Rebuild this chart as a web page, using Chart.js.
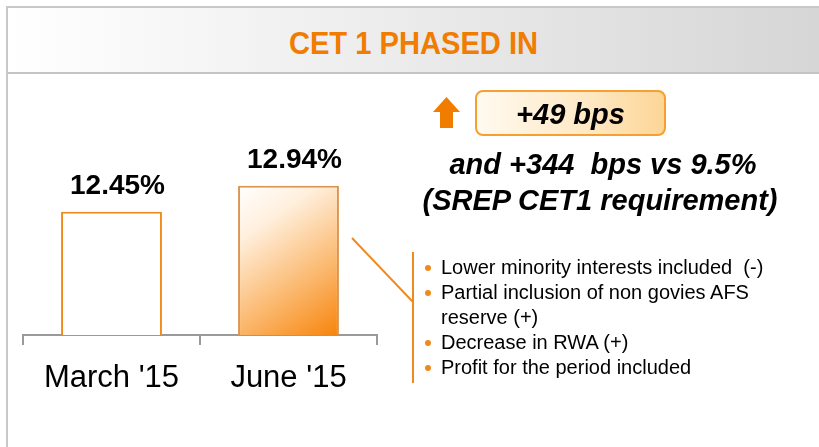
<!DOCTYPE html>
<html>
<head>
<meta charset="utf-8">
<script src="https://cdn.jsdelivr.net/npm/chart.js@4.4.0/dist/chart.umd.min.js"></script>
<style>
  body { margin: 0; width: 819px; height: 447px; overflow: hidden; background: #fff; font-family: Arial, "Liberation Sans", sans-serif; }
  #page { position: relative; width: 819px; height: 447px; }
  #frame { position: absolute; left: 6px; top: 6px; width: 830px; height: 460px; border-left: 2px solid #c8c8c8; border-top: 2px solid #c8c8c8; }
  #header { position: absolute; left: 8px; top: 8px; width: 811px; height: 64px; border-bottom: 2px solid #c4c4c4;
            background: linear-gradient(to right, #ffffff 0%, #efefef 40%, #d6d6d6 100%); }
  #title { position: absolute; left: 0; top: 0; width: 811px; line-height: 71px; text-align: center; color: #f07c00; font-weight: bold; font-size: 32px; transform: scaleX(0.91); }
  #chartBox { position: absolute; left: 22px; top: 120px; width: 356px; height: 275px; }
  .bi { position: absolute; font-weight: bold; font-style: italic; color: #000; white-space: nowrap; }
  #badge { position: absolute; left: 475px; top: 90px; width: 187px; height: 42px; border: 2px solid #f5a030; border-radius: 8px;
           background: linear-gradient(to right, #fffaf0 0%, #fee8c4 60%, #fdd596 100%); }
  #badge span { display: block; text-align: center; line-height: 44px; font-size: 29px; font-weight: bold; font-style: italic; }
  #notes { position: absolute; left: 425px; top: 255px; margin: 0; padding: 0; list-style: none; font-size: 20px; line-height: 25px; color: #000; }
  #notes li { position: relative; padding-left: 16px; white-space: nowrap; }
  #notes li.b::before { content: ""; position: absolute; left: 0; top: 10px; width: 6px; height: 6px; border-radius: 50%; background: #f08a1c; }
  svg { position: absolute; left: 0; top: 0; }
</style>
</head>
<body>
<div id="page">
  <div id="frame"></div>
  <div id="header"><div id="title">CET 1 PHASED IN</div></div>
  <div id="chartBox"><canvas id="cetChart"></canvas></div>

  <svg width="819" height="447">
    <polygon points="446.5,97 433,112 440,112 440,128 453,128 453,112 460,112" fill="#f07c00"/>
    <line x1="352" y1="238" x2="413" y2="302" stroke="#f08a1c" stroke-width="2"/>
    <line x1="413" y1="252" x2="413" y2="383" stroke="#f08a1c" stroke-width="2"/>
  </svg>

  <div id="badge"><span>+49 bps</span></div>
  <div class="bi" style="left:403px; top:148px; width:400px; text-align:center; font-size:29px;">and +344&nbsp; bps vs 9.5%</div>
  <div class="bi" style="left:400px; top:184px; width:400px; text-align:center; font-size:29px;">(SREP CET1 requirement)</div>

  <ul id="notes">
    <li class="b">Lower minority interests included&nbsp; (-)</li>
    <li class="b">Partial inclusion of non govies AFS</li>
    <li>reserve (+)</li>
    <li class="b">Decrease in RWA (+)</li>
    <li class="b">Profit for the period included</li>
  </ul>
</div>

<script>
// dati CET1 phased in
const categories = ["March '15", "June '15"];
const cetValues = [12.45, 12.94];
const valueLabels = ['12.45%', '12.94%'];

const ctx = document.getElementById('cetChart');

// etichette valore sopra le barre
const valueLabelPlugin = {
    id: 'valueLabels',
    afterDatasetsDraw(chart) {
        const c = chart.ctx;
        const meta = chart.getDatasetMeta(0);
        c.save();
        c.font = 'bold 28px Arial, "Liberation Sans", sans-serif';
        c.fillStyle = '#000';
        c.textAlign = 'center';
        c.textBaseline = 'bottom';
        meta.data.forEach(function(bar, i) {
            c.fillText(valueLabels[i], bar.x + 6, bar.y - 12);
        });
        c.restore();
    }
};

new Chart(ctx, {
    type: 'bar',
    data: {
        labels: categories,
        datasets: [{
            data: cetValues,
            backgroundColor: function(context) {
                const chart = context.chart;
                if (context.dataIndex === 0) return '#ffffff';
                const sx = chart.scales.x, sy = chart.scales.y;
                if (!chart.chartArea || !sx || !sy) return '#f7870f';
                const cx = sx.getPixelForValue(1);
                const top = sy.getPixelForValue(cetValues[1]);
                const bottom = sy.getPixelForValue(sy.min);
                if (![cx, top, bottom].every(Number.isFinite)) return '#f7870f';
                const half = 52;
                const g = chart.ctx.createLinearGradient(cx - half, top, cx + half, bottom);
                g.addColorStop(0, '#ffffff');
                g.addColorStop(0.25, '#fff0de');
                g.addColorStop(0.65, '#fbb86e');
                g.addColorStop(1, '#f7830a');
                return g;
            },
            borderColor: ['#f08a1c', '#dc9450'],
            borderWidth: 2,
            borderSkipped: false,
            barPercentage: 0.57,
            categoryPercentage: 1.0
        }]
    },
    options: {
        responsive: true,
        maintainAspectRatio: false,
        animation: false,
        layout: { padding: { left: 1, right: 1, top: 0, bottom: 0 } },
        scales: {
            x: {
                grid: { offset: true, drawOnChartArea: false, drawTicks: true, tickLength: 10, color: '#9a9a9a', lineWidth: 2 },
                border: { display: true, color: '#9a9a9a', width: 2 },
                ticks: { color: '#000', font: { size: 31, family: 'Arial, "Liberation Sans", sans-serif' }, padding: 15 },
                afterFit: function(scale) { scale.height = 60; }
            },
            y: {
                display: false,
                min: 10.13,
                max: 14.18
            }
        },
        plugins: {
            legend: { display: false },
            tooltip: { enabled: false }
        }
    },
    plugins: [valueLabelPlugin]
});
</script>
</body>
</html>
